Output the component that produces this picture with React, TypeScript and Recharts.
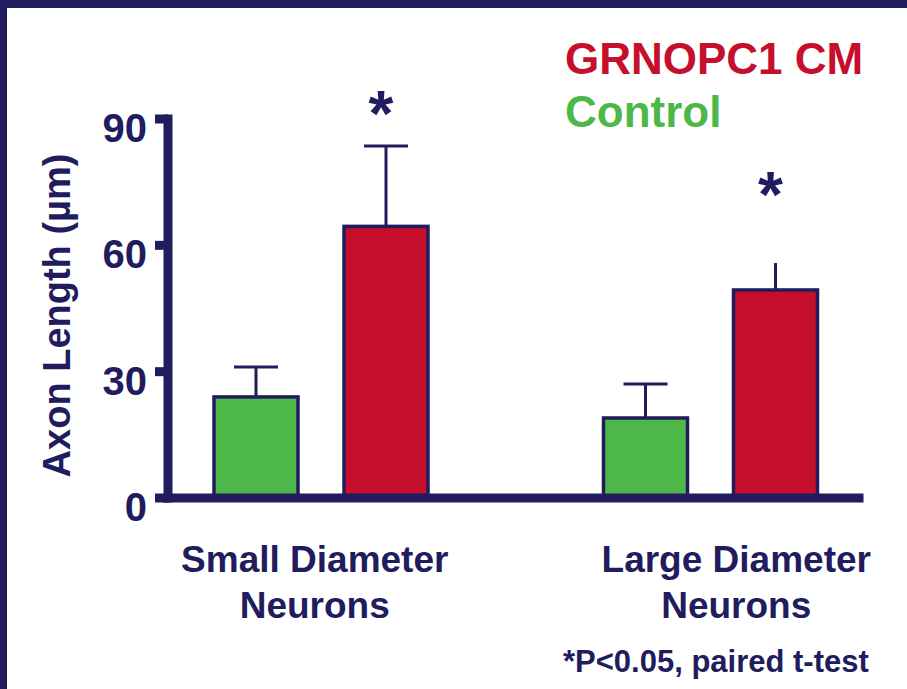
import React from 'react';
import { BarChart, Bar, XAxis, YAxis, Legend } from 'recharts';

// values (axon length, µm)
const categories = ['Small Diameter\nNeurons', 'Large Diameter\nNeurons'];
const controlMean = [24.0, 19.0];
const controlErr = [7.1, 8.1];
const grnMean = [64.5, 49.4];
const grnErr = [19.1, 6.4];
const significance = ['*', '*'];
const yTicks = [0, 30, 60, 90];

const NAVY = '#201c5e';
const GREEN = '#4db848';
const RED = '#c50f2c';
const FONT = '"Liberation Sans", Arial, Helvetica, sans-serif';

const data = categories.map((name, i) => ({
  name,
  control: controlMean[i],
  controlErr: controlErr[i],
  grn: grnMean[i],
  grnErr: grnErr[i],
  sig: significance[i],
}));

// the large-diameter GRNOPC1 whisker has no cap on the slide
const capShown: Record<string, boolean[]> = { control: [true, true], grn: [true, false] };
// asterisk lift above whisker top, px
const starLift = [43, 79];
// x-label text boxes are a bit off-centre on the slide
const labelNudge = [-6, 26];

const makeShape = (key: string, errKey: string, withStar: boolean) => (props: any) => {
  const { x, y, width, height, fill, payload } = props;
  const i = categories.indexOf(payload.name);
  const pxPerUnit = height / payload[key];
  const top = y - payload[errKey] * pxPerUnit;
  const cx = x + width / 2;
  return (
    <g>
      <line x1={cx} x2={cx} y1={y} y2={top} stroke={NAVY} strokeWidth={3} />
      {capShown[key][i] && (
        <line x1={cx - 22} x2={cx + 22} y1={top} y2={top} stroke={NAVY} strokeWidth={3} />
      )}
      <rect x={x} y={y} width={width} height={height} fill={fill} stroke={NAVY} strokeWidth={3.5} />
      {withStar && (
        <text
          x={cx - 5}
          y={top - starLift[i] + 33}
          textAnchor="middle"
          fontSize={64}
          fontWeight="bold"
          fill={NAVY}
          fontFamily={FONT}
        >
          {payload.sig}
        </text>
      )}
    </g>
  );
};

const XTick = (props: any) => {
  const { x, y, payload } = props;
  const i = categories.indexOf(payload.value);
  const lines = String(payload.value).split('\n');
  const tx = x + (labelNudge[i] || 0);
  return (
    <text x={tx} y={y} textAnchor="middle" fontSize={37} fontWeight="bold" fill={NAVY} fontFamily={FONT}>
      {lines.map((l, k) => (
        <tspan key={k} x={tx} dy={k === 0 ? 74 : 46}>
          {l}
        </tspan>
      ))}
    </text>
  );
};

const YTick = (props: any) => {
  const { x, y, payload } = props;
  return (
    <text x={x} y={y + 23} textAnchor="end" fontSize={40} fontWeight="bold" fill={NAVY} fontFamily={FONT}>
      {payload.value}
    </text>
  );
};

const YLabel = (props: any) => {
  const vb = props.viewBox || { x: 0, y: 119, width: 168, height: 379 };
  return (
    <text
      transform={`translate(${vb.x + 70},${vb.y + vb.height / 2 + 7}) rotate(-90)`}
      textAnchor="middle"
      fontSize={38}
      fontWeight="bold"
      fill={NAVY}
      fontFamily={FONT}
    >
      Axon Length (µm)
    </text>
  );
};

const renderLegend = (props: any) => {
  const items = [...(props.payload || [])].reverse();
  return (
    <div style={{ fontFamily: FONT, fontWeight: 'bold', fontSize: 44, lineHeight: '53px' }}>
      {items.map((it: any) => (
        <div key={it.value} style={{ color: it.color, whiteSpace: 'nowrap' }}>
          {it.value}
        </div>
      ))}
    </div>
  );
};

export default function App() {
  return (
    <div
      style={{
        position: 'fixed',
        left: 0,
        top: 0,
        width: 907,
        height: 689,
        background: '#ffffff',
        overflow: 'hidden',
      }}
    >
      <div style={{ position: 'absolute', left: 0, top: 0, width: 907, height: 8, background: NAVY }} />
      <div style={{ position: 'absolute', left: 0, top: 0, width: 7, height: 689, background: NAVY }} />
      <div style={{ position: 'absolute', left: 0, top: 0 }}>
        <BarChart
          width={907}
          height={689}
          data={data}
          margin={{ top: 119, right: 48, bottom: 51, left: 0 }}
          barSize={84}
          barGap={46}
        >
          <XAxis
            dataKey="name"
            height={140}
            interval={0}
            axisLine={{ stroke: NAVY, strokeWidth: 9, strokeLinecap: 'square' }}
            tickLine={false}
            tickSize={0}
            tickMargin={0}
            padding={{ left: -42, right: -46 }}
            tick={(p: any) => <XTick {...p} />}
          />
          <YAxis
            width={168}
            domain={[0, 90]}
            ticks={yTicks}
            interval={0}
            axisLine={{ stroke: NAVY, strokeWidth: 9, strokeLinecap: 'square' }}
            tickLine={{ stroke: NAVY, strokeWidth: 9 }}
            tickSize={13}
            tickMargin={8}
            tick={(p: any) => <YTick {...p} />}
            label={<YLabel />}
          />
          <Legend
            layout="horizontal"
            verticalAlign="middle"
            align="center"
            content={renderLegend}
            wrapperStyle={{ position: 'absolute', left: 565, top: 32, width: 330, bottom: 'auto', right: 'auto' }}
          />
          <Bar
            dataKey="control"
            name="Control"
            fill={GREEN}
            isAnimationActive={false}
            shape={makeShape('control', 'controlErr', false)}
          />
          <Bar
            dataKey="grn"
            name="GRNOPC1 CM"
            fill={RED}
            isAnimationActive={false}
            shape={makeShape('grn', 'grnErr', true)}
          />
        </BarChart>
      </div>
      <div
        style={{
          position: 'absolute',
          left: 563,
          top: 646,
          fontFamily: FONT,
          fontWeight: 'bold',
          fontSize: 31,
          lineHeight: '31px',
          color: NAVY,
          whiteSpace: 'nowrap',
        }}
      >
        *P&lt;0.05, paired t-test
      </div>
    </div>
  );
}
